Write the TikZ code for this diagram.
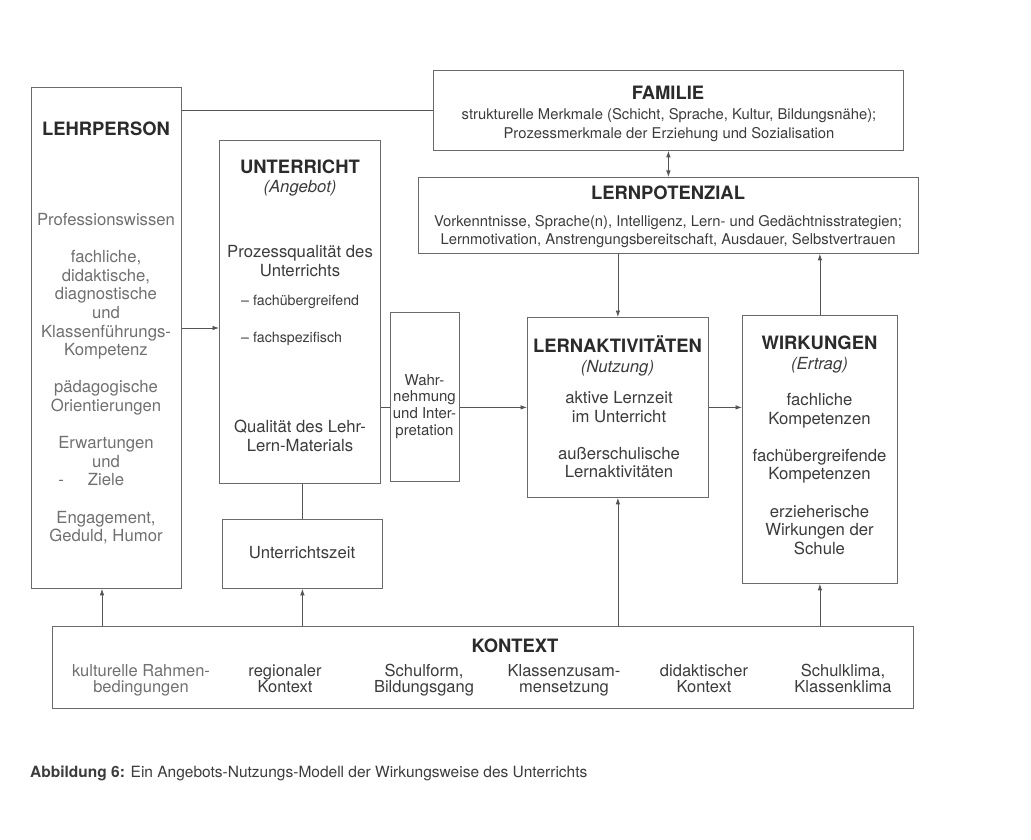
\documentclass[tikz,border=0pt]{standalone}
\usepackage{fontspec}
\setmainfont{TeX Gyre Heros}
\usetikzlibrary{arrows.meta}
\definecolor{ink}{HTML}{2B2B2B}
\definecolor{bodyc}{HTML}{3C3C3C}
\definecolor{faded}{HTML}{707070}
\definecolor{edgec}{HTML}{6A6A6A}
\definecolor{connc}{HTML}{555555}
\newcommand\fbody{\fontsize{16.7}{18.6}\selectfont}
\newcommand\fhead{\fontsize{18.4}{20}\selectfont\bfseries}
\newcommand\fsmall{\fontsize{14.8}{18.5}\selectfont}
\newcommand\fdash{\fontsize{14.2}{18}\selectfont}
\newcommand\fwahr{\fontsize{15}{16.7}\selectfont}
\newcommand\fkon{\fontsize{16.5}{16}\selectfont}
\newcommand\fcap{\fontsize{15.5}{18}\selectfont}
\newcommand\ml[1]{\begin{tabular}[t]{@{}c@{}}#1\end{tabular}}
\newcommand\mll[1]{\begin{tabular}[t]{@{}l@{}}#1\end{tabular}}
\tikzset{
  boxn/.style={draw=edgec, line width=0.8pt, anchor=north west, inner sep=0pt},
  txt/.style={inner sep=0pt, anchor=base, text=bodyc, font=\fbody},
  head/.style={inner sep=0pt, anchor=base, text=ink, font=\fhead},
  conn/.style={draw=connc, line width=0.8pt},
  arr/.style={conn, -{Latex[length=6.5pt,width=4.5pt]}},
  arrboth/.style={conn, {Latex[length=6.5pt,width=4.5pt]}-{Latex[length=6.5pt,width=4.5pt]}}
}
\begin{document}
\begin{tikzpicture}[x=1pt,y=-1pt]
\useasboundingbox[fill=white] (0,0) rectangle (1031,840);

% boxes
\node[boxn, minimum width=150pt, minimum height=501pt] (lehr) at (31,87) {};
\node[boxn, minimum width=161pt, minimum height=343pt] (unt) at (219,140) {};
\node[boxn, minimum width=160pt, minimum height=69pt] (uz) at (222,519) {};
\node[boxn, minimum width=69pt, minimum height=169pt] (wahr) at (390,312) {};
\node[boxn, minimum width=181pt, minimum height=180pt] (la) at (527,317) {};
\node[boxn, minimum width=155pt, minimum height=268pt] (wirk) at (742,315) {};
\node[boxn, minimum width=470pt, minimum height=80pt] (fam) at (433,70) {};
\node[boxn, minimum width=500pt, minimum height=76pt] (lp) at (418,177) {};
\node[boxn, minimum width=861pt, minimum height=82pt] (kon) at (52,626) {};

% LEHRPERSON
\node[head] (lehrH) at (106,136) {LEHRPERSON};
\node[txt, text=faded] (lehrB) at (106,225.5) {\ml{Professionswissen\\[18.6pt]
fachliche,\\didaktische,\\diagnostische\\und\\Klassenführungs-\\Kompetenz\\[18.6pt]
pädagogische\\Orientierungen\\[18.6pt]
Erwartungen\\und\\\llap{-\hspace{24pt}}Ziele\\[18.6pt]
Engagement,\\Geduld, Humor}};

% UNTERRICHT
\node[head] (untH) at (300,173.7) {UNTERRICHT};
\node[txt] (untS) at (300,192.5) {\itshape (Angebot)};
\node[txt] (untB1) at (300,257.5) {\ml{Prozessqualität des\\Unterrichts}};
\node[txt, font=\fdash, anchor=base west] (untD) at (241,305) {\mll{– fachübergreifend\\[19pt]– fachspezifisch}};
\node[txt] (untB2) at (300,432.5) {\ml{Qualität des Lehr-\\Lern-Materials}};

% Unterrichtszeit
\node[txt] (uzT) at (302,558.5) {Unterrichtszeit};

% Wahrnehmung
\node[txt, font=\fwahr] (wahrT) at (424.5,385) {\ml{Wahr-\\nehmung\\und Inter-\\pretation}};

% LERNAKTIVITAETEN
\node[head] (laH) at (617.5,352.7) {LERNAKTIVITÄTEN};
\node[txt] (laS) at (617.5,372.5) {\itshape (Nutzung)};
\node[txt] (laB) at (619,403.5) {\ml{aktive Lernzeit\\im Unterricht\\[18.6pt]außerschulische\\Lernaktivitäten}};

% WIRKUNGEN
\node[head] (wirkH) at (819.5,349.7) {WIRKUNGEN};
\node[txt] (wirkS) at (819.5,369.5) {\itshape (Ertrag)};
\node[txt] (wirkB) at (819.5,405.5) {\ml{fachliche\\Kompetenzen\\[18.6pt]fachübergreifende\\Kompetenzen\\[18.6pt]erzieherische\\Wirkungen der\\Schule}};

% FAMILIE
\node[head] (famH) at (668,99.7) {FAMILIE};
\node[txt, font=\fsmall] (famB) at (669,120) {\ml{strukturelle Merkmale (Schicht, Sprache, Kultur, Bildungsnähe);\\Prozessmerkmale der Erziehung und Sozialisation}};

% LERNPOTENZIAL
\node[head] (lpH) at (668,199.7) {LERNPOTENZIAL};
\node[txt, font=\fsmall] (lpB) at (668,226) {\ml{Vorkenntnisse, Sprache(n), Intelligenz, Lern- und Gedächtnisstrategien;\\[-0.5pt]Lernmotivation, Anstrengungsbereitschaft, Ausdauer, Selbstvertrauen}};

% KONTEXT
\node[head] (konH) at (515,652.5) {KONTEXT};
\node[txt, font=\fkon, text=faded] (k1) at (141,676) {\ml{kulturelle Rahmen-\\bedingungen}};
\node[txt, font=\fkon] (k2) at (285,676) {\ml{regionaler\\Kontext}};
\node[txt, font=\fkon] (k3) at (424,676) {\ml{Schulform,\\Bildungsgang}};
\node[txt, font=\fkon] (k4) at (564,676) {\ml{Klassenzusam-\\mensetzung}};
\node[txt, font=\fkon] (k5) at (704,676) {\ml{didaktischer\\Kontext}};
\node[txt, font=\fkon] (k6) at (843,676) {\ml{Schulklima,\\Klassenklima}};

% caption
\node[txt, font=\fcap, anchor=base west] (cap) at (30,777) {{\bfseries Abbildung 6:} Ein Angebots-Nutzungs-Modell der Wirkungsweise des Unterrichts};

% helper coordinates
\coordinate (yA) at (0,328);
\coordinate (xL) at (102,0);

% connectors
\draw[conn] (fam.west) -- (fam.west -| lehr.east);
\draw[arr] (lehr.east |- yA) -- (unt.west |- yA);
\draw[conn] (unt.east |- la.west) -- (wahr.west |- la.west);
\draw[arr] (wahr.east |- la.west) -- (la.west);
\draw[arr] (la.east) -- (la.east -| wirk.west);
\draw[arrboth] (fam.south) -- (lp.north);
\draw[arr] (lp.south -| la.north) -- (la.north);
\draw[arr] (wirk.north) -- (wirk.north |- lp.south);
\draw[conn] (unt.south -| uz.north) -- (uz.north);
\draw[arr] (kon.north -| xL) -- (lehr.south -| xL);
\draw[arr] (kon.north -| uz.south) -- (uz.south);
\draw[arr] (kon.north -| la.south) -- (la.south);
\draw[arr] (kon.north -| wirk.south) -- (wirk.south);
\end{tikzpicture}
\end{document}
